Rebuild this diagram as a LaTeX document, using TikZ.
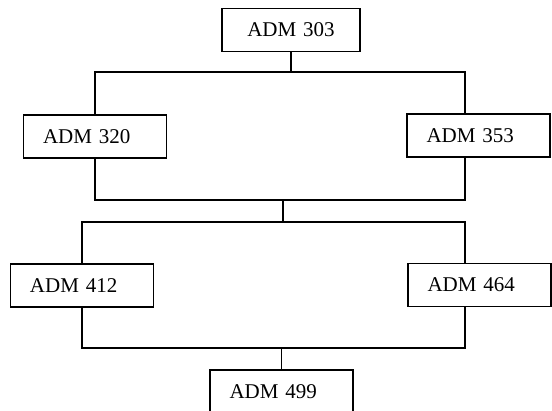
\documentclass[tikz,border=0pt]{standalone}
\usepackage{fontspec}
\setmainfont{Liberation Serif}
\usetikzlibrary{positioning,calc}
\tikzset{
  coursebox/.style={draw=black,fill=white,line width=1.1pt,minimum height=43pt,inner xsep=19.5pt,inner ysep=0pt,text width=104pt,align=left,font=\fontsize{21}{25}\selectfont},
  linkline/.style={line width=1.1pt,draw=black}
}
\begin{document}
\begin{tikzpicture}[x=1pt,y=-1pt]
\useasboundingbox (0,0) rectangle (552,411);
\clip (0,0) rectangle (552,411);
% junction points
\coordinate (jtopr) at (465,72);
\coordinate (jmidr) at (465,200);
\coordinate (jmidc) at (283,200);
\coordinate (jlowc) at (283,222);
\coordinate (jlowr) at (465,222);
\coordinate (jbotr) at (465,348);
% courses
\node[coursebox, text width=99pt, align=center] (adm303) at (291,30) {ADM 303};
\node[coursebox] (adm320) at (95,136.5) {ADM 320};
\node[coursebox] (adm353) at (478.5,135.5) {ADM 353};
\node[coursebox] (adm412) at (82,285.5) {ADM 412};
\node[coursebox] (adm464) at (479.5,285) {ADM 464};
\node[coursebox] (adm499) at (281.5,391.5) {ADM 499};
% links
\draw[linkline] (adm303.south) -- (adm303.south |- jtopr);
\draw[linkline] (adm320.north) |- (jtopr) -- (jtopr |- adm353.north);
\draw[linkline] (adm320.south) |- (jmidr) -- (jmidr |- adm353.south);
\draw[linkline] (jmidc) -- (jlowc);
\draw[linkline] (adm412.north) |- (jlowr) -- (jlowr |- adm464.north);
\draw[linkline] (adm412.south) |- (jbotr) -- (jbotr |- adm464.south);
\draw[linkline] (adm499.north) -- (adm499.north |- jbotr);
\end{tikzpicture}
\end{document}
